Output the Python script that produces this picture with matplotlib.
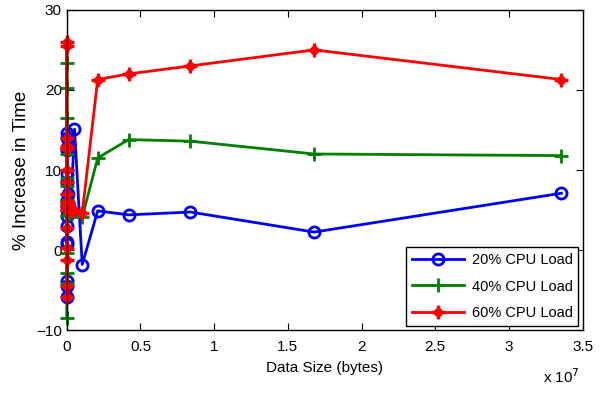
import numpy as np
import matplotlib
matplotlib.use("Agg")
import matplotlib.pyplot as plt
from matplotlib.path import Path

plt.rcParams['font.family'] = ['Liberation Sans', 'DejaVu Sans']

# data sizes: 2^0 ... 2^25 bytes
sizes = [2 ** k for k in range(26)]

load20 = [-5.8, -4.5, -3.9, 1.0, 3.0, 0.8, 14.6, 12.7, 6.2, 5.0, 8.5, 9.5, 4.2,
          5.5, 12.5, 14.0, 7.0, 5.2, 4.8, 15.1, -1.8, 4.9, 4.4, 4.75, 2.25, 7.1]
load40 = [-8.5, -4.1, -2.9, -0.4, 4.2, 6.2, 23.4, 20.2, 16.5, 10.0, 8.0, 6.0, 5.5,
          7.0, 9.0, 12.0, 5.0, 4.5, 4.8, 5.0, 4.1, 11.5, 13.8, 13.6, 12.0, 11.8]
load60 = [-5.8, -4.5, -1.2, 0.3, 2.8, 5.0, 26.0, 25.5, 14.0, 12.6, 10.0, 8.5, 7.0,
          6.0, 5.5, 13.0, 6.0, 5.2, 5.0, 5.0, 4.6, 21.3, 22.0, 23.0, 25.0, 21.3]

labels = ['20% CPU Load', '40% CPU Load', '60% CPU Load']
xticks = [0, 0.5e7, 1e7, 1.5e7, 2e7, 2.5e7, 3e7, 3.5e7]
xticklabels = ['0', '0.5', '1', '1.5', '2', '2.5', '3', '3.5']
yticks = [-10, 0, 10, 20, 30]

# matlab-like asterisk: plus with a short x over it
d = 0.45
star = Path([(-1, 0), (1, 0), (0, -1), (0, 1),
             (-d, -d), (d, d), (-d, d), (d, -d)],
            [Path.MOVETO, Path.LINETO] * 4)

fig = plt.figure(figsize=(6.07, 3.94), dpi=100)
ax = fig.add_axes([0.110, 0.162, 0.850, 0.813])

ax.plot(sizes, load20, color='blue', lw=2, marker='o', ms=8, mfc='none',
        mew=2, label=labels[0], clip_on=False)
ax.plot(sizes, load40, color=(0, 0.5, 0), lw=2, marker='+', ms=10, mew=2,
        label=labels[1], clip_on=False)
ax.plot(sizes, load60, color='red', lw=2, marker=star, ms=10, mew=2.4,
        label=labels[2], clip_on=False)

ax.set_xlim(0, 3.5e7)
ax.set_ylim(-10, 30)
ax.set_xticks(xticks)
ax.set_xticklabels(xticklabels)
ax.set_yticks(yticks)
ax.tick_params(direction='in', top=True, right=True, labelsize=11, length=5)
ax.tick_params(axis='x', pad=7)
for s in ax.spines.values():
    s.set_linewidth(1)

ax.set_xlabel('Data Size (bytes)', fontsize=11, labelpad=5)
ax.set_ylabel('% Increase in Time', fontsize=13.5, labelpad=4)
fig.text(0.955, 0.02, r'x 10$^7$', ha='right', va='bottom', fontsize=11)

leg = ax.legend(loc='lower right', fontsize=10.5, fancybox=False,
                edgecolor='black', framealpha=1, handlelength=3.6,
                borderaxespad=0.3, labelspacing=0.85, handletextpad=0.5)
leg.get_frame().set_linewidth(1)

fig.savefig('out.png', dpi=100)
